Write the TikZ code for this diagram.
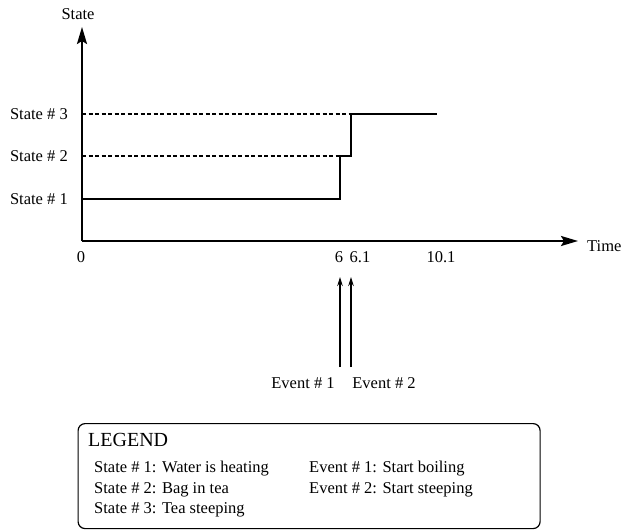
\documentclass[tikz,border=0pt]{standalone}
\usepackage{fontspec}
\setmainfont{Liberation Serif}
\usetikzlibrary{arrows.meta}
\begin{document}
\begin{tikzpicture}[x=1pt,y=-1pt,
  lbl/.style={font=\fontsize{16.5}{19}\selectfont, inner sep=0pt},
  axis/.style={line width=2.2pt, -{Stealth[length=17pt,width=10pt,inset=3pt]}},
  trace/.style={line width=2pt},
  guide/.style={line width=1.4pt, dash pattern=on 4pt off 2.5pt},
  evarrow/.style={line width=1.4pt, -{Stealth[length=9pt,width=5.5pt]}}]
\useasboundingbox (0,0) rectangle (621,532);
% axes
\coordinate (O) at (82,241);
\coordinate (ytip) at (82,27);
\coordinate (xtip) at (578,241);
\draw[axis] (O) -- (ytip);
\draw[axis] (O) -- (xtip);
\node[lbl] (ylab) at (78,14) {State};
\node[lbl, anchor=west] (xlab) at (587,246) {Time};
% state levels
\coordinate (s1) at (82,199);
\coordinate (s2) at (82,156);
\coordinate (s3) at (82,114);
\node[lbl, anchor=east] (S1) at (68,199) {State \# 1};
\node[lbl, anchor=east] (S2) at (68,156) {State \# 2};
\node[lbl, anchor=east] (S3) at (68,114) {State \# 3};
\coordinate (a) at (340,199);
\coordinate (b) at (340,156);
\coordinate (c) at (351,156);
\coordinate (d) at (351,114);
\coordinate (e) at (437,114);
\draw[guide] (s2) -- (b);
\draw[guide] (s3) -- (d);
\draw[trace] (s1) -- (a) -- (b) -- (c) -- (d) -- (e);
% tick labels
\node[lbl] (t0) at (81,257) {0};
\node[lbl] (t6) at (339,257) {6};
\node[lbl] (t61) at (360,257) {6.1};
\node[lbl] (t101) at (441,257) {10.1};
% events
\coordinate (e1b) at (340,367);
\coordinate (e1t) at (340,277);
\coordinate (e2b) at (351,367);
\coordinate (e2t) at (351,277);
\draw[evarrow] (e1b) -- (e1t);
\draw[evarrow] (e2b) -- (e2t);
\node[lbl, anchor=base] (E1) at (303,388.5) {Event \# 1};
\node[lbl, anchor=base] (E2) at (384,388.5) {Event \# 2};
% legend
\node[draw, line width=1.2pt, rounded corners=7pt, minimum width=462pt, minimum height=105pt, anchor=north west, inner sep=0pt] (leg) at (77.5,423) {};
\node[anchor=base west, inner sep=0pt, font=\fontsize{20}{24}\selectfont] (LT) at (88,446) {LEGEND};
\node[lbl, anchor=base west] (L1) at (94,472.5) {State \# 1: Water is heating};
\node[lbl, anchor=base west] (L2) at (94,493) {State \# 2: Bag in tea};
\node[lbl, anchor=base west] (L3) at (94,513.5) {State \# 3: Tea steeping};
\node[lbl, anchor=base west] (L4) at (309,472.5) {Event \# 1: Start boiling};
\node[lbl, anchor=base west] (L5) at (309,493) {Event \# 2: Start steeping};
\end{tikzpicture}
\end{document}
